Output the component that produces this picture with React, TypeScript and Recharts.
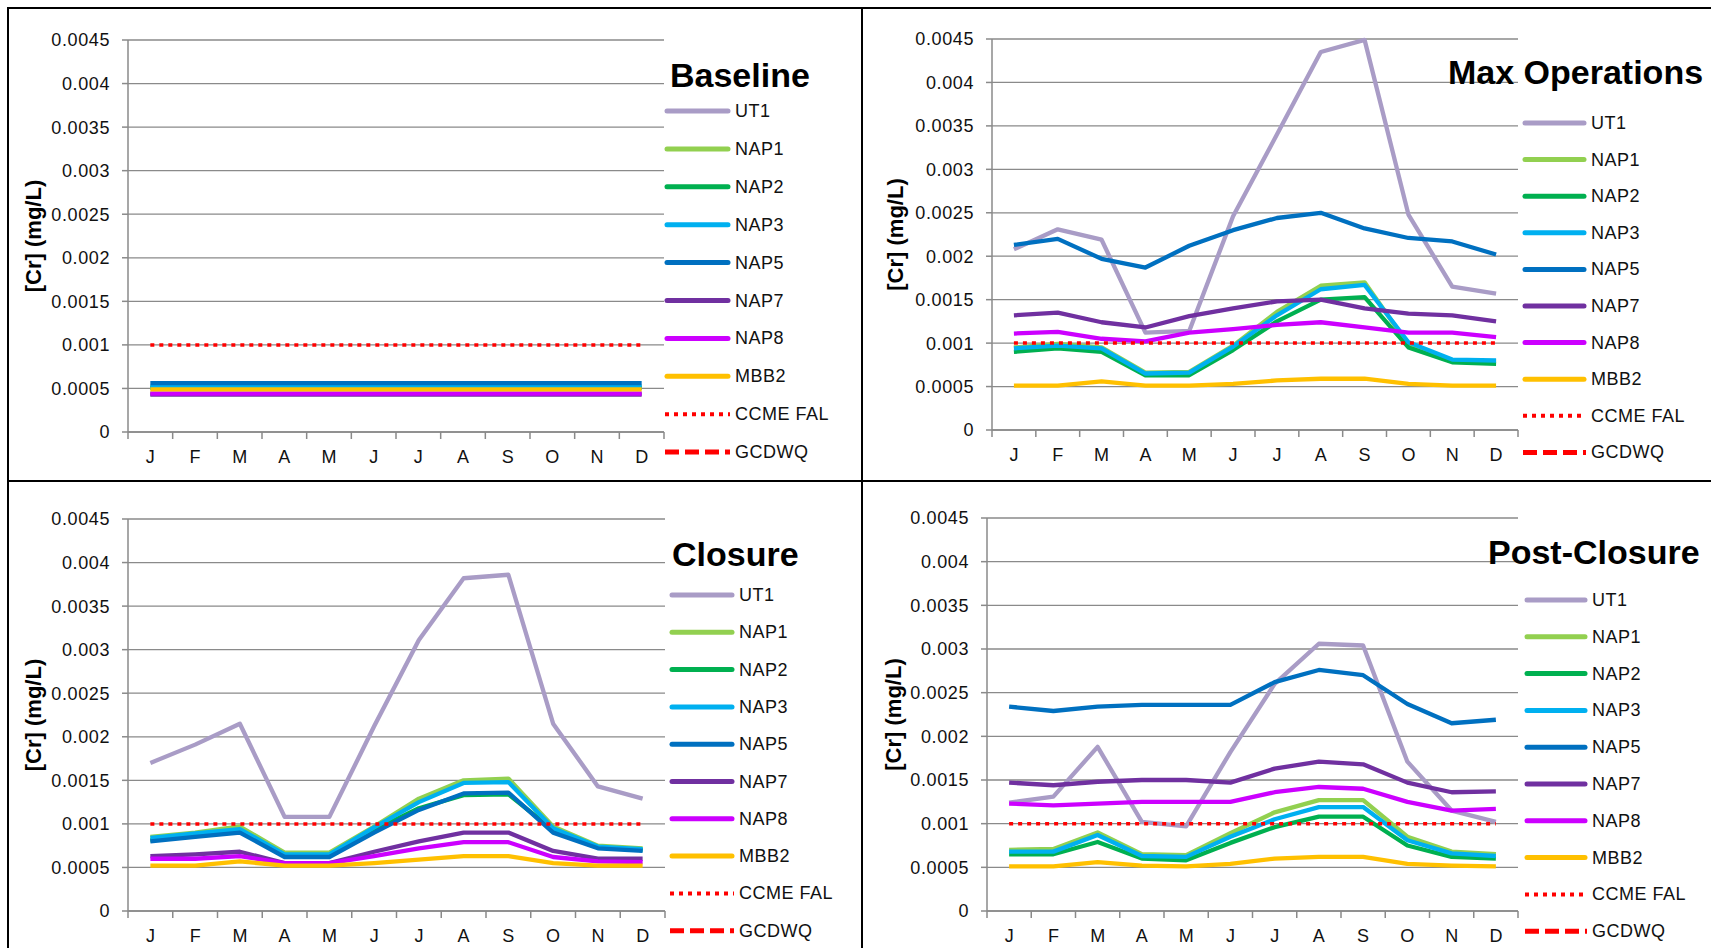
import React from 'react';
import { LineChart, Line, XAxis, YAxis, CartesianGrid } from 'recharts';

const months = ['Jan', 'Feb', 'Mar', 'Apr', 'May', 'Jun', 'Jul', 'Aug', 'Sep', 'Oct', 'Nov', 'Dec'];
const monthLabels = ['J', 'F', 'M', 'A', 'M', 'J', 'J', 'A', 'S', 'O', 'N', 'D'];
const yTicks = [0, 0.0005, 0.001, 0.0015, 0.002, 0.0025, 0.003, 0.0035, 0.004, 0.0045];
const ccmeFal = [0.001, 0.001, 0.001, 0.001, 0.001, 0.001, 0.001, 0.001, 0.001, 0.001, 0.001, 0.001];

// Baseline
const baseUT1 = [0.00044, 0.00044, 0.00044, 0.00044, 0.00044, 0.00044, 0.00044, 0.00044, 0.00044, 0.00044, 0.00044, 0.00044];
const baseNAP1 = [0.00051, 0.00051, 0.00051, 0.00051, 0.00051, 0.00051, 0.00051, 0.00051, 0.00051, 0.00051, 0.00051, 0.00051];
const baseNAP2 = [0.00051, 0.00051, 0.00051, 0.00051, 0.00051, 0.00051, 0.00051, 0.00051, 0.00051, 0.00051, 0.00051, 0.00051];
const baseNAP3 = [0.00052, 0.00052, 0.00052, 0.00052, 0.00052, 0.00052, 0.00052, 0.00052, 0.00052, 0.00052, 0.00052, 0.00052];
const baseNAP5 = [0.00056, 0.00056, 0.00056, 0.00056, 0.00056, 0.00056, 0.00056, 0.00056, 0.00056, 0.00056, 0.00056, 0.00056];
const baseNAP7 = [0.00043, 0.00043, 0.00043, 0.00043, 0.00043, 0.00043, 0.00043, 0.00043, 0.00043, 0.00043, 0.00043, 0.00043];
const baseNAP8 = [0.00044, 0.00044, 0.00044, 0.00044, 0.00044, 0.00044, 0.00044, 0.00044, 0.00044, 0.00044, 0.00044, 0.00044];
const baseMBB2 = [0.00049, 0.00049, 0.00049, 0.00049, 0.00049, 0.00049, 0.00049, 0.00049, 0.00049, 0.00049, 0.00049, 0.00049];

// Max Operations
const maxUT1 = [0.00208, 0.00231, 0.00219, 0.00112, 0.00114, 0.00246, 0.0034, 0.00435, 0.00449, 0.00248, 0.00165, 0.00157];
const maxNAP1 = [0.00095, 0.00099, 0.00095, 0.00066, 0.00067, 0.00097, 0.00136, 0.00166, 0.0017, 0.00098, 0.0008, 0.00079];
const maxNAP2 = [0.0009, 0.00094, 0.0009, 0.00063, 0.00063, 0.00092, 0.00125, 0.0015, 0.00153, 0.00095, 0.00078, 0.00076];
const maxNAP3 = [0.00094, 0.00097, 0.00094, 0.00065, 0.00066, 0.00096, 0.00132, 0.00162, 0.00167, 0.00101, 0.00081, 0.0008];
const maxNAP5 = [0.00213, 0.0022, 0.00197, 0.00187, 0.00212, 0.0023, 0.00244, 0.0025, 0.00232, 0.00221, 0.00217, 0.00202];
const maxNAP7 = [0.00132, 0.00135, 0.00124, 0.00118, 0.00131, 0.0014, 0.00148, 0.0015, 0.0014, 0.00134, 0.00132, 0.00125];
const maxNAP8 = [0.00111, 0.00113, 0.00105, 0.00102, 0.00112, 0.00116, 0.00121, 0.00124, 0.00118, 0.00112, 0.00112, 0.00107];
const maxMBB2 = [0.00051, 0.00051, 0.00056, 0.00051, 0.00051, 0.00053, 0.00057, 0.00059, 0.00059, 0.00053, 0.00051, 0.00051];

// Closure
const closUT1 = [0.0017, 0.00191, 0.00215, 0.00108, 0.00108, 0.00212, 0.00311, 0.00382, 0.00386, 0.00215, 0.00143, 0.00129];
const closNAP1 = [0.00085, 0.0009, 0.00097, 0.00067, 0.00067, 0.00097, 0.00129, 0.0015, 0.00152, 0.00097, 0.00075, 0.00072];
const closNAP2 = [0.00081, 0.00086, 0.00092, 0.00064, 0.00064, 0.00093, 0.00118, 0.00133, 0.00134, 0.00093, 0.00073, 0.0007];
const closNAP3 = [0.00084, 0.00089, 0.00094, 0.00065, 0.00065, 0.00096, 0.00125, 0.00147, 0.00148, 0.00095, 0.00074, 0.00071];
const closNAP5 = [0.0008, 0.00085, 0.0009, 0.00062, 0.00062, 0.0009, 0.00116, 0.00135, 0.00136, 0.0009, 0.00072, 0.00069];
const closNAP7 = [0.00063, 0.00065, 0.00068, 0.00055, 0.00055, 0.00068, 0.0008, 0.0009, 0.0009, 0.00069, 0.0006, 0.0006];
const closNAP8 = [0.0006, 0.0006, 0.00063, 0.00055, 0.00055, 0.00063, 0.00072, 0.00079, 0.00079, 0.00062, 0.00057, 0.00056];
const closMBB2 = [0.00052, 0.00052, 0.00057, 0.00052, 0.00052, 0.00055, 0.00059, 0.00063, 0.00063, 0.00055, 0.00052, 0.00052];

// Post-Closure
const postUT1 = [0.00124, 0.00131, 0.00188, 0.00102, 0.00097, 0.00182, 0.0026, 0.00306, 0.00304, 0.00171, 0.00115, 0.00102];
const postNAP1 = [0.0007, 0.00071, 0.0009, 0.00065, 0.00064, 0.00089, 0.00113, 0.00127, 0.00127, 0.00085, 0.00068, 0.00065];
const postNAP2 = [0.00065, 0.00065, 0.00079, 0.0006, 0.00058, 0.00078, 0.00096, 0.00108, 0.00108, 0.00075, 0.00062, 0.0006];
const postNAP3 = [0.00068, 0.00068, 0.00087, 0.00063, 0.00062, 0.00085, 0.00105, 0.00119, 0.00119, 0.00081, 0.00066, 0.00063];
const postNAP5 = [0.00234, 0.00229, 0.00234, 0.00236, 0.00236, 0.00236, 0.00262, 0.00276, 0.0027, 0.00237, 0.00215, 0.00219];
const postNAP7 = [0.00147, 0.00144, 0.00148, 0.0015, 0.0015, 0.00147, 0.00163, 0.00171, 0.00168, 0.00147, 0.00136, 0.00137];
const postNAP8 = [0.00123, 0.00121, 0.00123, 0.00125, 0.00125, 0.00125, 0.00136, 0.00142, 0.0014, 0.00125, 0.00115, 0.00117];
const postMBB2 = [0.00051, 0.00051, 0.00056, 0.00052, 0.00051, 0.00054, 0.0006, 0.00062, 0.00062, 0.00054, 0.00052, 0.00051];

const seriesNames = ['UT1', 'NAP1', 'NAP2', 'NAP3', 'NAP5', 'NAP7', 'NAP8', 'MBB2'];
const seriesColors = ['#A99CC6', '#92D050', '#00B050', '#00B0F0', '#0070C0', '#7030A0', '#CC00FF', '#FFC000'];
const legendNames = [...seriesNames, 'CCME FAL', 'GCDWQ'];

const FONT = '"Liberation Sans", Arial, sans-serif';
const GRID = '#8a8a8a';

const buildRows = (values: number[][]) =>
  months.map((m, i) => {
    const row: Record<string, string | number> = { month: m, CCME: ccmeFal[i] };
    seriesNames.forEach((name, s) => {
      row[name] = values[s][i];
    });
    return row;
  });

interface PanelProps {
  title: string;
  values: number[][];
  left: number;
  top: number;
  width: number;
  height: number;
  margin: { top: number; right: number; bottom: number; left: number };
  yAxisWidth: number;
  labelX: number;
  legendX: number;
  legendW: number;
  legendY: number;
  legendStep: number;
  titleX: number;
  titleY: number;
}

const Panel: React.FC<PanelProps> = (p) => {
  const data = buildRows(p.values);
  const plotW = p.width - p.margin.right - p.margin.left - p.yAxisWidth;
  const plotH = p.height - p.margin.top - p.margin.bottom - 30;
  const step = plotW / 12;
  const midY = p.margin.top + plotH / 2;

  const MonthTick = (t: any) => {
    const { x, y, index } = t;
    return (
      <g>
        <line x1={x - step / 2} x2={x - step / 2} y1={y} y2={y + 7} stroke={GRID} strokeWidth={1.5} />
        {index === 11 && <line x1={x + step / 2} x2={x + step / 2} y1={y} y2={y + 7} stroke={GRID} strokeWidth={1.5} />}
        <text x={x} y={y + 31} textAnchor="middle" fontSize={18} fill="#111" fontFamily={FONT}>
          {monthLabels[index]}
        </text>
      </g>
    );
  };

  return (
    <div style={{ position: 'absolute', left: p.left, top: p.top, width: p.width, height: p.height }}>
      <LineChart width={p.width} height={p.height} data={data} margin={p.margin}>
        <CartesianGrid vertical={false} stroke={GRID} strokeWidth={1.3} />
        <XAxis
          dataKey="month"
          height={30}
          interval={0}
          padding={{ left: step / 2, right: step / 2 }}
          tickLine={false}
          tickSize={0}
          tickMargin={0}
          axisLine={{ stroke: GRID, strokeWidth: 1.5 }}
          tick={MonthTick}
        />
        <YAxis
          width={p.yAxisWidth}
          domain={[0, 0.0045]}
          ticks={yTicks}
          interval={0}
          tickSize={6}
          tickMargin={12}
          tickLine={{ stroke: GRID, strokeWidth: 1.5 }}
          axisLine={{ stroke: GRID, strokeWidth: 1.5 }}
          tick={{ fontSize: 18, fill: '#111', fontFamily: FONT, letterSpacing: 0.6 }}
          tickFormatter={(v: number) => String(v)}
        />
        {seriesNames.map((name, i) => (
          <Line
            key={name}
            type="linear"
            dataKey={name}
            stroke={seriesColors[i]}
            strokeWidth={4.3}
            strokeLinejoin="round"
            dot={false}
            activeDot={false}
            isAnimationActive={false}
          />
        ))}
        <Line
          type="linear"
          dataKey="CCME"
          stroke="#FF0000"
          strokeWidth={3.5}
          strokeDasharray="4 5"
          dot={false}
          activeDot={false}
          isAnimationActive={false}
        />
      </LineChart>
      <svg
        width={p.width}
        height={p.height}
        style={{ position: 'absolute', left: 0, top: 0, pointerEvents: 'none' }}
        fontFamily={FONT}
      >
        <text
          x={p.labelX}
          y={midY}
          transform={`rotate(-90 ${p.labelX} ${midY})`}
          textAnchor="middle"
          dominantBaseline="central"
          fontSize={22}
          fontWeight="bold"
          fill="#000"
        >
          [Cr] (mg/L)
        </text>
        <text x={p.titleX} y={p.titleY} fontSize={34} fontWeight="bold" fill="#000">
          {p.title}
        </text>
        {legendNames.map((name, i) => {
          const cy = p.legendY + i * p.legendStep;
          const x1 = p.legendX;
          const x2 = p.legendX + p.legendW;
          let line;
          if (i < seriesNames.length) {
            line = <line x1={x1 + 2} x2={x2 - 2} y1={cy} y2={cy} stroke={seriesColors[i]} strokeWidth={5} strokeLinecap="round" />;
          } else if (name === 'CCME FAL') {
            line = <line x1={x1} x2={x2} y1={cy} y2={cy} stroke="#FF0000" strokeWidth={4} strokeDasharray="4 5" />;
          } else {
            line = <line x1={x1} x2={x2} y1={cy} y2={cy} stroke="#FF0000" strokeWidth={5} strokeDasharray="14 6" />;
          }
          return (
            <g key={name}>
              {line}
              <text x={x2 + 5} y={cy + 6} fontSize={18} fill="#111" letterSpacing={0.5}>
                {name}
              </text>
            </g>
          );
        })}
      </svg>
    </div>
  );
};

const App: React.FC = () => {
  return (
    <div style={{ position: 'absolute', left: 0, top: 0, width: 1711, height: 948, background: '#fff', overflow: 'hidden' }}>
      <Panel
        title="Baseline"
        values={[baseUT1, baseNAP1, baseNAP2, baseNAP3, baseNAP5, baseNAP7, baseNAP8, baseMBB2]}
        left={9}
        top={9}
        width={852}
        height={471}
        margin={{ top: 31, right: 197, bottom: 18, left: 0 }}
        yAxisWidth={119}
        labelX={24}
        legendX={656}
        legendW={65}
        legendY={102}
        legendStep={37.9}
        titleX={661}
        titleY={78}
      />
      <Panel
        title="Max Operations"
        values={[maxUT1, maxNAP1, maxNAP2, maxNAP3, maxNAP5, maxNAP7, maxNAP8, maxMBB2]}
        left={863}
        top={9}
        width={848}
        height={471}
        margin={{ top: 30, right: 193, bottom: 20, left: 0 }}
        yAxisWidth={129}
        labelX={32}
        legendX={660}
        legendW={63}
        legendY={114}
        legendStep={36.6}
        titleX={585}
        titleY={75}
      />
      <Panel
        title="Closure"
        values={[closUT1, closNAP1, closNAP2, closNAP3, closNAP5, closNAP7, closNAP8, closMBB2]}
        left={9}
        top={482}
        width={852}
        height={466}
        margin={{ top: 37, right: 196, bottom: 7, left: 0 }}
        yAxisWidth={119}
        labelX={24}
        legendX={661}
        legendW={64}
        legendY={113}
        legendStep={37.3}
        titleX={663}
        titleY={84}
      />
      <Panel
        title="Post-Closure"
        values={[postUT1, postNAP1, postNAP2, postNAP3, postNAP5, postNAP7, postNAP8, postMBB2]}
        left={863}
        top={482}
        width={848}
        height={466}
        margin={{ top: 36, right: 193, bottom: 7, left: 0 }}
        yAxisWidth={124}
        labelX={30}
        legendX={662}
        legendW={62}
        legendY={118}
        legendStep={36.8}
        titleX={625}
        titleY={82}
      />
      {/* frame and dividers */}
      <div style={{ position: 'absolute', left: 7, top: 7, width: 1711, height: 2, background: '#000' }} />
      <div style={{ position: 'absolute', left: 7, top: 7, width: 2, height: 948, background: '#000' }} />
      <div style={{ position: 'absolute', left: 861, top: 7, width: 2, height: 948, background: '#000' }} />
      <div style={{ position: 'absolute', left: 7, top: 480, width: 1711, height: 2, background: '#000' }} />
    </div>
  );
};

export default App;
